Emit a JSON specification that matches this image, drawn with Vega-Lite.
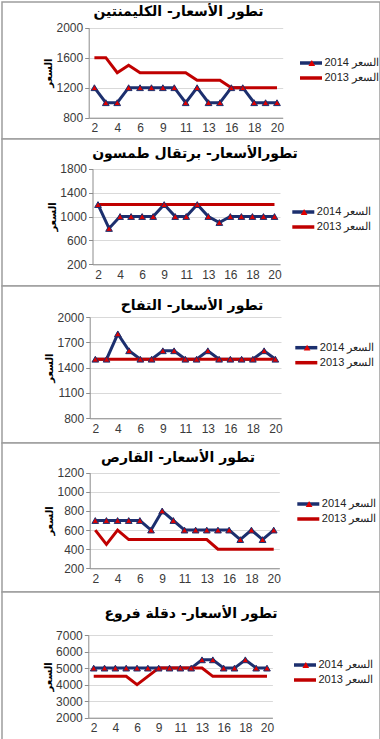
{
"$schema":"https://vega.github.io/schema/vega-lite/v6.json",
"padding":{"left":1,"top":1,"right":0,"bottom":0},
"background":"white",
"spacing":0,
"bounds":"flush",
"config":{
 "view":{"stroke":"#9d9d9d","strokeWidth":1.5,"fill":"white"},
 "axis":{"labelFont":"Liberation Sans","labelFontSize":12,"labelColor":"#3a3a3a","domainColor":"#8c8c8c","tickColor":"#8c8c8c","gridColor":"#d9d9d9","titleFont":"DejaVu Sans","titleFontSize":10,"titleFontWeight":"bold","titleColor":"#000000"},
 "axisX":{"ticks":false,"labelPadding":5,"labelAngle":0,"grid":false},
 "axisY":{"tickSize":4,"labelPadding":2,"grid":true,"titleX":-40,"titleBaseline":"middle","titleAngle":-90,"format":"d"},
 "title":{"font":"DejaVu Sans","fontSize":14,"fontWeight":"bold","color":"#000000","anchor":"middle","frame":"group","baseline":"alphabetic"},
 "legend":{"labelFont":"Liberation Sans","labelFontSize":11,"labelColor":"#222222","padding":0,"title":null,"rowPadding":0}
},
"resolve":{"scale":{"x":"independent","y":"independent","color":"independent","shape":"independent"},"legend":{"color":"independent","shape":"independent"}},
"vconcat":[
{
 "width":378,"height":137,
 "title":{"text":"تطور الأسعار- الكليمنتين","offset":-17,"dx":-12.5},
 "data":{"values":[
  {"day":2,"series":"2014","price":1200},{"day":3,"series":"2014","price":1000},{"day":4,"series":"2014","price":1000},{"day":5,"series":"2014","price":1200},{"day":6,"series":"2014","price":1200},{"day":8,"series":"2014","price":1200},{"day":9,"series":"2014","price":1200},{"day":10,"series":"2014","price":1200},{"day":11,"series":"2014","price":1000},{"day":12,"series":"2014","price":1200},{"day":13,"series":"2014","price":1000},{"day":15,"series":"2014","price":1000},{"day":16,"series":"2014","price":1200},{"day":17,"series":"2014","price":1200},{"day":18,"series":"2014","price":1000},{"day":19,"series":"2014","price":1000},{"day":20,"series":"2014","price":1000},
  {"day":2,"series":"2013","price":1600},{"day":3,"series":"2013","price":1600},{"day":4,"series":"2013","price":1400},{"day":5,"series":"2013","price":1500},{"day":6,"series":"2013","price":1400},{"day":8,"series":"2013","price":1400},{"day":9,"series":"2013","price":1400},{"day":10,"series":"2013","price":1400},{"day":11,"series":"2013","price":1400},{"day":12,"series":"2013","price":1300},{"day":13,"series":"2013","price":1300},{"day":15,"series":"2013","price":1300},{"day":16,"series":"2013","price":1200},{"day":17,"series":"2013","price":1200},{"day":18,"series":"2013","price":1200},{"day":19,"series":"2013","price":1200},{"day":20,"series":"2013","price":1200}
 ]},
 "encoding":{
  "x":{"field":"day","type":"ordinal","scale":{"type":"point","padding":0.5,"range":[86.7,280.7]},"axis":{"values":[2,4,6,9,11,13,16,18,20],"offset":-21.3,"title":null}},
  "y":{"field":"price","type":"quantitative","scale":{"domain":[800,2000],"range":[115.7,25.7],"nice":false,"zero":false},"axis":{"values":[800,1200,1600,2000],"offset":-86.7,"title":"السعر"}}
 },
 "layer":[
  {"transform":[{"filter":"datum.series == '2014'"}],"mark":{"type":"line","strokeWidth":3},
   "encoding":{"color":{"field":"series","type":"nominal","scale":{"domain":["2014","2013"],"range":["#1c2f6e","#c00000"]},"legend":{"orient":"none","legendX":301.5,"legendY":53.5,"symbolType":"M-2,0H2","symbolSize":121,"symbolStrokeWidth":3.5,"labelOffset":6,"labelExpr":"datum.label + ' السعر'"}}}},
  {"transform":[{"filter":"datum.series == '2013'"}],"mark":{"type":"line","strokeWidth":3},
   "encoding":{"color":{"field":"series","type":"nominal"}}},
  {"transform":[{"filter":"datum.series == '2014'"}],"mark":{"type":"point","filled":true,"fill":"#e00000","stroke":"#1c2f6e","strokeWidth":1,"size":45,"opacity":1},
   "encoding":{"shape":{"field":"series","type":"nominal","scale":{"domain":["2014"],"range":["triangle-up"]},"legend":{"orient":"none","legendX":304.3,"legendY":55.5,"symbolFillColor":"#e00000","symbolStrokeColor":"#1c2f6e","symbolStrokeWidth":1,"symbolSize":45,"labelExpr":"''"}}}}
 ]
},
{
 "width":378,"height":147,
 "title":{"text":"تطورالأسعار- برتقال طمسون","offset":-22,"dx":4},
 "data":{"values":[
  {"day":2,"series":"2014","price":1200},{"day":3,"series":"2014","price":800},{"day":4,"series":"2014","price":1000},{"day":5,"series":"2014","price":1000},{"day":6,"series":"2014","price":1000},{"day":8,"series":"2014","price":1000},{"day":9,"series":"2014","price":1200},{"day":10,"series":"2014","price":1000},{"day":11,"series":"2014","price":1000},{"day":12,"series":"2014","price":1200},{"day":13,"series":"2014","price":1000},{"day":15,"series":"2014","price":900},{"day":16,"series":"2014","price":1000},{"day":17,"series":"2014","price":1000},{"day":18,"series":"2014","price":1000},{"day":19,"series":"2014","price":1000},{"day":20,"series":"2014","price":1000},
  {"day":2,"series":"2013","price":1200},{"day":3,"series":"2013","price":1200},{"day":4,"series":"2013","price":1200},{"day":5,"series":"2013","price":1200},{"day":6,"series":"2013","price":1200},{"day":8,"series":"2013","price":1200},{"day":9,"series":"2013","price":1200},{"day":10,"series":"2013","price":1200},{"day":11,"series":"2013","price":1200},{"day":12,"series":"2013","price":1200},{"day":13,"series":"2013","price":1200},{"day":15,"series":"2013","price":1200},{"day":16,"series":"2013","price":1200},{"day":17,"series":"2013","price":1200},{"day":18,"series":"2013","price":1200},{"day":19,"series":"2013","price":1200},{"day":20,"series":"2013","price":1200}
 ]},
 "encoding":{
  "x":{"field":"day","type":"ordinal","scale":{"type":"point","padding":0.5,"range":[90.5,278]},"axis":{"values":[2,4,6,9,11,13,16,18,20],"offset":-21.7,"title":null}},
  "y":{"field":"price","type":"quantitative","scale":{"domain":[200,1800],"range":[125.3,29.7],"nice":false,"zero":false},"axis":{"values":[200,600,1000,1400,1800],"offset":-90.5,"title":"السعر"}}
 },
 "layer":[
  {"transform":[{"filter":"datum.series == '2014'"}],"mark":{"type":"line","strokeWidth":3},
   "encoding":{"color":{"field":"series","type":"nominal","scale":{"domain":["2014","2013"],"range":["#1c2f6e","#c00000"]},"legend":{"orient":"none","legendX":293.8,"legendY":65.5,"symbolType":"M-2,0H2","symbolSize":121,"symbolStrokeWidth":3.5,"labelOffset":6,"labelExpr":"datum.label + ' السعر'"}}}},
  {"transform":[{"filter":"datum.series == '2013'"}],"mark":{"type":"line","strokeWidth":3},
   "encoding":{"color":{"field":"series","type":"nominal"}}},
  {"transform":[{"filter":"datum.series == '2014'"}],"mark":{"type":"point","filled":true,"fill":"#e00000","stroke":"#1c2f6e","strokeWidth":1,"size":45,"opacity":1},
   "encoding":{"shape":{"field":"series","type":"nominal","scale":{"domain":["2014"],"range":["triangle-up"]},"legend":{"orient":"none","legendX":296.6,"legendY":67.5,"symbolFillColor":"#e00000","symbolStrokeColor":"#1c2f6e","symbolStrokeWidth":1,"symbolSize":45,"labelExpr":"''"}}}}
 ]
},
{
 "width":378,"height":157,
 "title":{"text":"تطور الأسعار- التفاح","offset":-27,"dx":1},
 "data":{"values":[
  {"day":2,"series":"2014","price":1500},{"day":3,"series":"2014","price":1500},{"day":4,"series":"2014","price":1800},{"day":5,"series":"2014","price":1600},{"day":6,"series":"2014","price":1500},{"day":8,"series":"2014","price":1500},{"day":9,"series":"2014","price":1600},{"day":10,"series":"2014","price":1600},{"day":11,"series":"2014","price":1500},{"day":12,"series":"2014","price":1500},{"day":13,"series":"2014","price":1600},{"day":15,"series":"2014","price":1500},{"day":16,"series":"2014","price":1500},{"day":17,"series":"2014","price":1500},{"day":18,"series":"2014","price":1500},{"day":19,"series":"2014","price":1600},{"day":20,"series":"2014","price":1500},
  {"day":2,"series":"2013","price":1500},{"day":3,"series":"2013","price":1500},{"day":4,"series":"2013","price":1500},{"day":5,"series":"2013","price":1500},{"day":6,"series":"2013","price":1500},{"day":8,"series":"2013","price":1500},{"day":9,"series":"2013","price":1500},{"day":10,"series":"2013","price":1500},{"day":11,"series":"2013","price":1500},{"day":12,"series":"2013","price":1500},{"day":13,"series":"2013","price":1500},{"day":15,"series":"2013","price":1500},{"day":16,"series":"2013","price":1500},{"day":17,"series":"2013","price":1500},{"day":18,"series":"2013","price":1500},{"day":19,"series":"2013","price":1500},{"day":20,"series":"2013","price":1500}
 ]},
 "encoding":{
  "x":{"field":"day","type":"ordinal","scale":{"type":"point","padding":0.5,"range":[87.7,279]},"axis":{"values":[2,4,6,9,11,13,16,18,20],"offset":-24.7,"title":null}},
  "y":{"field":"price","type":"quantitative","scale":{"domain":[800,2000],"range":[132.3,31],"nice":false,"zero":false},"axis":{"values":[800,1100,1400,1700,2000],"offset":-87.7,"title":"السعر"}}
 },
 "layer":[
  {"transform":[{"filter":"datum.series == '2014'"}],"mark":{"type":"line","strokeWidth":3},
   "encoding":{"color":{"field":"series","type":"nominal","scale":{"domain":["2014","2013"],"range":["#1c2f6e","#c00000"]},"legend":{"orient":"none","legendX":296.8,"legendY":54.2,"symbolType":"M-2,0H2","symbolSize":121,"symbolStrokeWidth":3.5,"labelOffset":6,"labelExpr":"datum.label + ' السعر'"}}}},
  {"transform":[{"filter":"datum.series == '2013'"}],"mark":{"type":"line","strokeWidth":3},
   "encoding":{"color":{"field":"series","type":"nominal"}}},
  {"transform":[{"filter":"datum.series == '2014'"}],"mark":{"type":"point","filled":true,"fill":"#e00000","stroke":"#1c2f6e","strokeWidth":1,"size":45,"opacity":1},
   "encoding":{"shape":{"field":"series","type":"nominal","scale":{"domain":["2014"],"range":["triangle-up"]},"legend":{"orient":"none","legendX":299.6,"legendY":56.2,"symbolFillColor":"#e00000","symbolStrokeColor":"#1c2f6e","symbolStrokeWidth":1,"symbolSize":45,"labelExpr":"''"}}}}
 ]
},
{
 "width":378,"height":149,
 "title":{"text":"تطور الأسعار- القارص","offset":-22,"dx":-13},
 "data":{"values":[
  {"day":2,"series":"2014","price":700},{"day":3,"series":"2014","price":700},{"day":4,"series":"2014","price":700},{"day":5,"series":"2014","price":700},{"day":6,"series":"2014","price":700},{"day":8,"series":"2014","price":600},{"day":9,"series":"2014","price":800},{"day":10,"series":"2014","price":700},{"day":11,"series":"2014","price":600},{"day":12,"series":"2014","price":600},{"day":13,"series":"2014","price":600},{"day":15,"series":"2014","price":600},{"day":16,"series":"2014","price":600},{"day":17,"series":"2014","price":500},{"day":18,"series":"2014","price":600},{"day":19,"series":"2014","price":500},{"day":20,"series":"2014","price":600},
  {"day":2,"series":"2013","price":600},{"day":3,"series":"2013","price":450},{"day":4,"series":"2013","price":600},{"day":5,"series":"2013","price":500},{"day":6,"series":"2013","price":500},{"day":8,"series":"2013","price":500},{"day":9,"series":"2013","price":500},{"day":10,"series":"2013","price":500},{"day":11,"series":"2013","price":500},{"day":12,"series":"2013","price":500},{"day":13,"series":"2013","price":500},{"day":15,"series":"2013","price":400},{"day":16,"series":"2013","price":400},{"day":17,"series":"2013","price":400},{"day":18,"series":"2013","price":400},{"day":19,"series":"2013","price":400},{"day":20,"series":"2013","price":400}
 ]},
 "encoding":{
  "x":{"field":"day","type":"ordinal","scale":{"type":"point","padding":0.5,"range":[87.7,277.3]},"axis":{"values":[2,4,6,9,11,13,16,18,20],"offset":-23.7,"title":null}},
  "y":{"field":"price","type":"quantitative","scale":{"domain":[200,1200],"range":[125.3,29.7],"nice":false,"zero":false},"axis":{"values":[200,400,600,800,1000,1200],"offset":-87.7,"title":"السعر"}}
 },
 "layer":[
  {"transform":[{"filter":"datum.series == '2014'"}],"mark":{"type":"line","strokeWidth":3},
   "encoding":{"color":{"field":"series","type":"nominal","scale":{"domain":["2014","2013"],"range":["#1c2f6e","#c00000"]},"legend":{"orient":"none","legendX":298.8,"legendY":53.5,"symbolType":"M-2,0H2","symbolSize":121,"symbolStrokeWidth":3.5,"labelOffset":6,"labelExpr":"datum.label + ' السعر'"}}}},
  {"transform":[{"filter":"datum.series == '2013'"}],"mark":{"type":"line","strokeWidth":3},
   "encoding":{"color":{"field":"series","type":"nominal"}}},
  {"transform":[{"filter":"datum.series == '2014'"}],"mark":{"type":"point","filled":true,"fill":"#e00000","stroke":"#1c2f6e","strokeWidth":1,"size":45,"opacity":1},
   "encoding":{"shape":{"field":"series","type":"nominal","scale":{"domain":["2014"],"range":["triangle-up"]},"legend":{"orient":"none","legendX":301.6,"legendY":55.5,"symbolFillColor":"#e00000","symbolStrokeColor":"#1c2f6e","symbolStrokeWidth":1,"symbolSize":45,"labelExpr":"''"}}}}
 ]
},
{
 "width":378,"height":148,
 "title":{"text":"تطور الأسعار- دقلة فروع","offset":-29,"dx":0},
 "data":{"values":[
  {"day":2,"series":"2014","price":5000},{"day":3,"series":"2014","price":5000},{"day":4,"series":"2014","price":5000},{"day":5,"series":"2014","price":5000},{"day":6,"series":"2014","price":5000},{"day":8,"series":"2014","price":5000},{"day":9,"series":"2014","price":5000},{"day":10,"series":"2014","price":5000},{"day":11,"series":"2014","price":5000},{"day":12,"series":"2014","price":5000},{"day":13,"series":"2014","price":5500},{"day":15,"series":"2014","price":5500},{"day":16,"series":"2014","price":5000},{"day":17,"series":"2014","price":5000},{"day":18,"series":"2014","price":5500},{"day":19,"series":"2014","price":5000},{"day":20,"series":"2014","price":5000},
  {"day":2,"series":"2013","price":4500},{"day":3,"series":"2013","price":4500},{"day":4,"series":"2013","price":4500},{"day":5,"series":"2013","price":4500},{"day":6,"series":"2013","price":4000},{"day":8,"series":"2013","price":4500},{"day":9,"series":"2013","price":5000},{"day":10,"series":"2013","price":5000},{"day":11,"series":"2013","price":5000},{"day":12,"series":"2013","price":5000},{"day":13,"series":"2013","price":5000},{"day":15,"series":"2013","price":4500},{"day":16,"series":"2013","price":4500},{"day":17,"series":"2013","price":4500},{"day":18,"series":"2013","price":4500},{"day":19,"series":"2013","price":4500},{"day":20,"series":"2013","price":4500}
 ]},
 "encoding":{
  "x":{"field":"day","type":"ordinal","scale":{"type":"point","padding":0.5,"range":[86.3,270.4]},"axis":{"values":[2,4,6,9,11,13,16,18,20],"offset":-22.3,"title":null}},
  "y":{"field":"price","type":"quantitative","scale":{"domain":[2000,7000],"range":[125.7,43],"nice":false,"zero":false},"axis":{"values":[2000,3000,4000,5000,6000,7000],"offset":-86.3,"title":"السعر"}}
 },
 "layer":[
  {"transform":[{"filter":"datum.series == '2014'"}],"mark":{"type":"line","strokeWidth":3},
   "encoding":{"color":{"field":"series","type":"nominal","scale":{"domain":["2014","2013"],"range":["#1c2f6e","#c00000"]},"legend":{"orient":"none","legendX":295.5,"legendY":65.5,"symbolType":"M-2,0H2","symbolSize":121,"symbolStrokeWidth":3.5,"labelOffset":6,"labelExpr":"datum.label + ' السعر'"}}}},
  {"transform":[{"filter":"datum.series == '2013'"}],"mark":{"type":"line","strokeWidth":3},
   "encoding":{"color":{"field":"series","type":"nominal"}}},
  {"transform":[{"filter":"datum.series == '2014'"}],"mark":{"type":"point","filled":true,"fill":"#e00000","stroke":"#1c2f6e","strokeWidth":1,"size":45,"opacity":1},
   "encoding":{"shape":{"field":"series","type":"nominal","scale":{"domain":["2014"],"range":["triangle-up"]},"legend":{"orient":"none","legendX":298.3,"legendY":67.5,"symbolFillColor":"#e00000","symbolStrokeColor":"#1c2f6e","symbolStrokeWidth":1,"symbolSize":45,"labelExpr":"''"}}}}
 ]
}
]
}
